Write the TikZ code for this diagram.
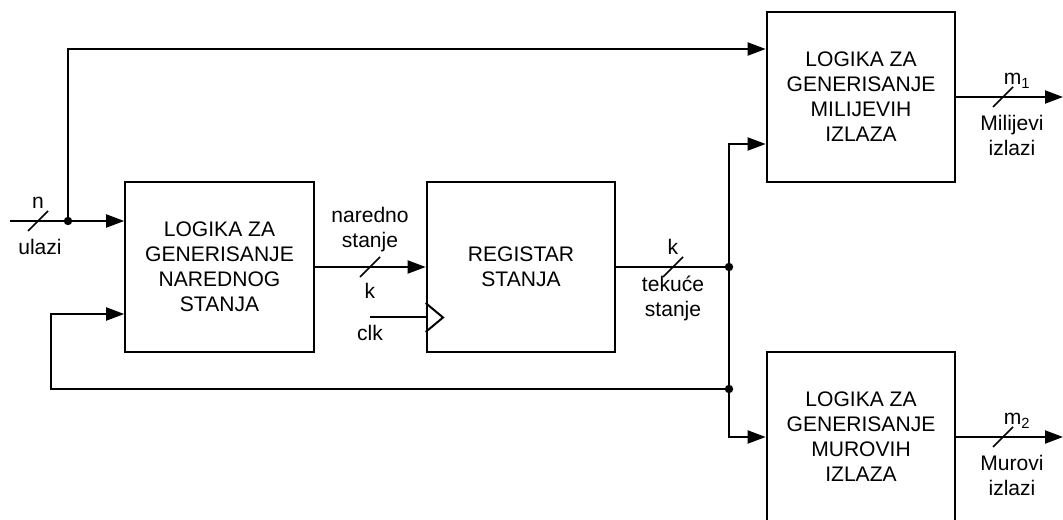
\documentclass[tikz,border=0pt]{standalone}
\usepackage{fontspec}
\setmainfont{Liberation Sans}
\usetikzlibrary{arrows.meta}
\tikzset{
  blok/.style={draw, line width=1.5pt, minimum width=141.5pt, minimum height=127.5pt, align=center, inner sep=0pt},
  crta/.style={line width=1.2pt},
  lbl/.style={align=center, inner sep=1pt},
}
\begin{document}
\begin{tikzpicture}[x=0.75pt, y=-0.75pt, font=\fontsize{15.8}{18.75}\selectfont, line width=1.5pt, >={Triangle[length=13.5pt,width=9.75pt]}]
\useasboundingbox (0,0) rectangle (1063,520);
% blokovi
\node[blok] (nsl) at (219.5,267) {LOGIKA ZA\\GENERISANJE\\NAREDNOG\\STANJA};
\node[blok] (reg) at (521,267) {REGISTAR\\STANJA};
\node[blok] (mealy) at (861,97) {LOGIKA ZA\\GENERISANJE\\MILIJEVIH\\IZLAZA};
\node[blok] (moore) at (861,437) {LOGIKA ZA\\GENERISANJE\\MUROVIH\\IZLAZA};
% tacke grananja
\coordinate (in) at (10,221);
\coordinate (din) at (68,221);
\coordinate (dcs) at (729,267);
\coordinate (dfb) at (729,389);
\coordinate (clk) at (370,317);
\coordinate (o1) at (1063,97);
\coordinate (o2) at (1063,437);
% veze
\draw (in) -- (din);
\draw[->] (din) -- (nsl.west |- din);
\draw[->] (din) |- (mealy.west |- 0,49);
\draw[->] (nsl.east) -- (reg.west);
\draw (clk) -- (reg.west |- clk);
\draw (reg.west |- 0,303) -- (443,317.5) -- (reg.west |- 0,332);
\draw (reg.east) -- (dcs);
\draw[->] (dcs) |- (mealy.west |- 0,144);
\draw[->] (dcs) |- (moore.west);
\draw[->] (dfb) -- (51,389) |- (nsl.west |- 0,314);
\draw[->] (mealy.east) -- (o1);
\draw[->] (moore.east) -- (o2);
\foreach \p in {din,dcs,dfb} \fill (\p) circle (4.2);
% oznake sirine magistrale
\foreach \x/\y in {38/221, 370/267, 673/267, 1003/97, 1003/437}
  \draw[crta] (\x-10,\y+10) -- (\x+10,\y-10);
% natpisi
\node[lbl] (n) at (38,203) {n};
\node[lbl] (ulazi) at (40,247) {ulazi};
\node[lbl] (naredno) at (370,230) {naredno\\stanje};
\node[lbl] (k1) at (370,291) {k};
\node[lbl] (clklbl) at (370,333) {clk};
\node[lbl] (k2) at (673,247) {k};
\node[lbl] (tekuce) at (673,298) {tekuće\\stanje};
\node[lbl] (m1) at (1017,81) {m\textsubscript{1}};
\node[lbl] (mili) at (1012,135) {Milijevi\\izlazi};
\node[lbl] (m2) at (1017,421) {m\textsubscript{2}};
\node[lbl] (muro) at (1012,475) {Murovi\\izlazi};
\end{tikzpicture}
\end{document}
